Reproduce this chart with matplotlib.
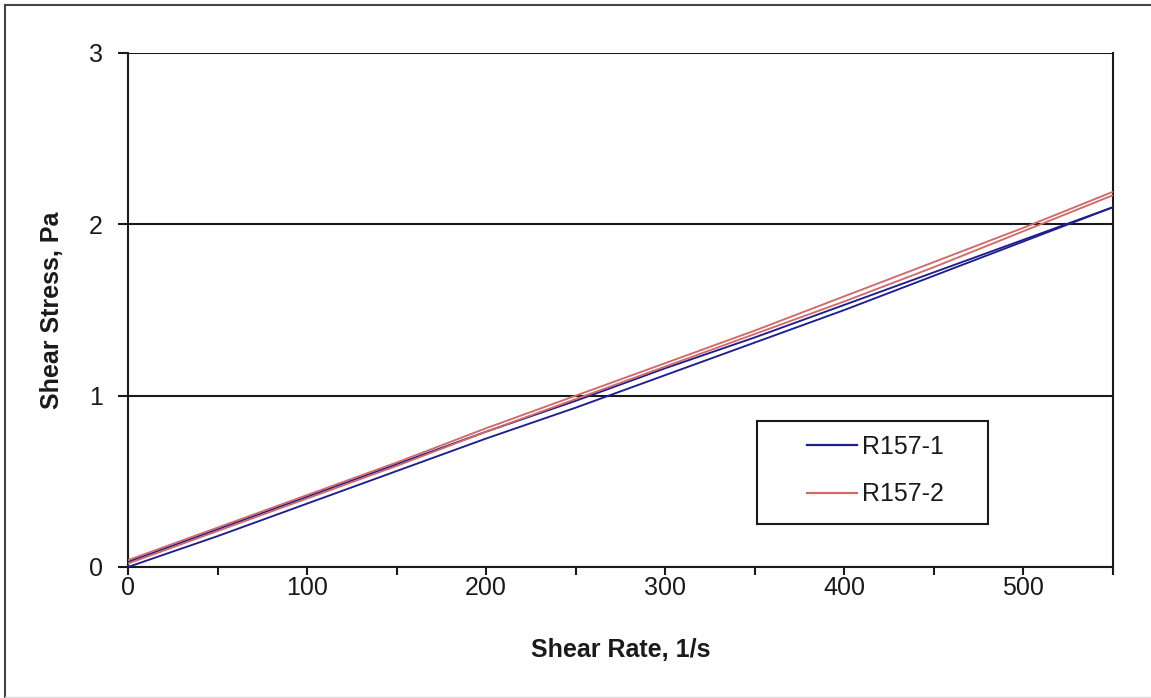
import matplotlib
matplotlib.use("Agg")
import matplotlib.pyplot as plt
from matplotlib.lines import Line2D
from matplotlib.patches import Rectangle
from matplotlib.ticker import MultipleLocator

# Flow curves: shear stress (Pa) against shear rate (1/s), ramp up and ramp down
shear_rate = [0, 50, 100, 150, 200, 250, 300, 350, 400, 450, 500, 550]

r157_1_up = [0.00, 0.18, 0.37, 0.56, 0.75, 0.93, 1.12, 1.31, 1.50, 1.70, 1.90, 2.10]
r157_1_down = [0.03, 0.22, 0.41, 0.60, 0.79, 0.97, 1.16, 1.34, 1.53, 1.72, 1.91, 2.10]

r157_2_up = [0.02, 0.21, 0.40, 0.59, 0.79, 0.98, 1.17, 1.36, 1.55, 1.75, 1.96, 2.17]
r157_2_down = [0.04, 0.23, 0.42, 0.61, 0.81, 1.00, 1.19, 1.38, 1.58, 1.78, 1.98, 2.19]

series_names = ["R157-1", "R157-2"]
x_label = "Shear Rate, 1/s"
y_label = "Shear Stress, Pa"

BLUE = "#1e1e8e"
RED = "#d26a6a"
INK = "#1a1a1a"

W, H = 1151, 698
plt.rcParams["font.family"] = ["Liberation Sans", "DejaVu Sans"]
fig = plt.figure(figsize=(W / 100, H / 100), dpi=100)


def fx(px):
    return px / W


def fy(py):
    return 1 - py / H


ax = fig.add_axes([fx(128), fy(567), fx(1113) - fx(128), fy(53) - fy(567)])

lw = 1.35
ax.plot(shear_rate, r157_1_up, color=BLUE, lw=lw, zorder=3)
ax.plot(shear_rate, r157_1_down, color=BLUE, lw=lw, zorder=3)
ax.plot(shear_rate, r157_2_up, color=RED, lw=lw, zorder=4)
ax.plot(shear_rate, r157_2_down, color=RED, lw=lw, zorder=4)

ax.set_xlim(0, 550)
ax.set_ylim(0, 3)
ax.xaxis.set_major_locator(MultipleLocator(100))
ax.xaxis.set_minor_locator(MultipleLocator(50))
ax.yaxis.set_major_locator(MultipleLocator(1))

for s in ["left", "bottom", "right"]:
    ax.spines[s].set_color(INK)
    ax.spines[s].set_linewidth(1.5)
ax.spines["top"].set_visible(False)

ax.grid(axis="y", color=INK, lw=1.5, zorder=1)
ax.set_axisbelow(True)

fs = 18
ax.tick_params(axis="x", which="both", direction="out", length=5.5, width=1.5,
               color=INK, labelsize=fs, labelcolor=INK, pad=1)
ax.tick_params(axis="y", which="major", direction="out", length=7, width=1.5,
               color=INK, labelsize=fs, labelcolor=INK, pad=11)

ax.set_xlabel(x_label, fontsize=fs, fontweight="bold", color=INK, labelpad=27)
ax.set_ylabel(y_label, fontsize=fs, fontweight="bold", color=INK, labelpad=18)

# Legend entries with a square frame drawn around them
handles = [Line2D([], [], color=BLUE, lw=1.6), Line2D([], [], color=RED, lw=1.6)]
fs_px = fs * 100 / 72
ax.legend(handles, series_names, loc="center left",
          bbox_to_anchor=(fx(807), fy(470.5)), bbox_transform=fig.transFigure,
          frameon=False, borderpad=0, borderaxespad=0, fontsize=fs,
          handlelength=50 / fs_px, handletextpad=5 / fs_px, labelspacing=0.94)
for t in ax.get_legend().get_texts():
    t.set_color(INK)

fig.add_artist(Rectangle((fx(757), fy(524)), fx(988) - fx(757), fy(421) - fy(524),
                         transform=fig.transFigure, fill=False,
                         edgecolor=INK, lw=1.5))

# Chart area border
fig.add_artist(Line2D([fx(5), fx(5)], [fy(5), fy(697)], transform=fig.transFigure,
                      color="#444444", lw=1.5))
fig.add_artist(Line2D([fx(5), 1], [fy(5), fy(5)], transform=fig.transFigure,
                      color="#444444", lw=1.5))
fig.add_artist(Line2D([fx(5), 1], [fy(697), fy(697)], transform=fig.transFigure,
                      color="#dddddd", lw=1.0))

fig.savefig("out.png", dpi=100)
